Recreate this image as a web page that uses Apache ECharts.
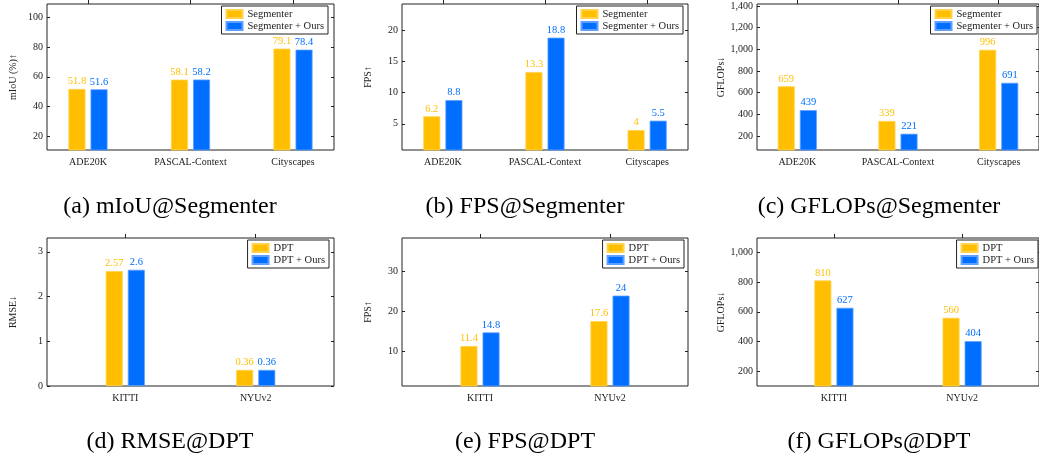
<!DOCTYPE html>
<html>
<head>
<meta charset="utf-8">
<script src="https://cdn.jsdelivr.net/npm/echarts@6/dist/echarts.min.js"></script>
<style>
  html, body { margin: 0; padding: 0; background: #fff; }
  #chart { width: 1039px; height: 455px; }
</style>
</head>
<body>
<div id="chart"></div>
<script>
// 数据
const segCats = ['ADE20K', 'PASCAL-Context', 'Cityscapes'];
const dptCats = ['KITTI', 'NYUv2'];

const miouSeg = [51.8, 58.1, 79.1];
const miouOurs = [51.6, 58.2, 78.4];
const fpsSeg = [6.2, 13.3, 4];
const fpsSegOurs = [8.8, 18.8, 5.5];
const gflopsSeg = [659, 339, 996];
const gflopsSegOurs = [439, 221, 691];

const rmseDpt = [2.57, 0.36];
const rmseOurs = [2.6, 0.36];
const fpsDpt = [11.4, 17.6];
const fpsDptOurs = [14.8, 24];
const gflopsDpt = [810, 560];
const gflopsDptOurs = [627, 404];

const miouTicks = [20, 40, 60, 80, 100];
const fpsSegTicks = [5, 10, 15, 20];
const gflopsSegTicks = [200, 400, 600, 800, 1000, 1200, 1400];
const rmseTicks = [0, 1, 2, 3];
const fpsDptTicks = [10, 20, 30];
const gflopsDptTicks = [200, 400, 600, 800, 1000];

const captions = [
  '(a) mIoU@Segmenter', '(b) FPS@Segmenter', '(c) GFLOPs@Segmenter',
  '(d) RMSE@DPT', '(e) FPS@DPT', '(f) GFLOPs@DPT'
];

const YELLOW = '#FFBF00';
const BLUE = '#006EFF';
const INK = '#222';
const SERIF = '"Liberation Serif", "DejaVu Serif", serif';

const comma = v => String(v).replace(/\B(?=(\d{3})+(?!\d))/g, ',');

// 子图配置 (legend: [right, top])
const panels = [
  { left: 47, top: 4, width: 287, height: 146, cats: segCats, base: miouSeg, ours: miouOurs,
    names: ['Segmenter', 'Segmenter + Ours'], yMin: 10.5, yMax: 109.3, ticks: miouTicks,
    yName: 'mIoU (%)↑', legend: [711, 6], capX: 170, capY: 207 },
  { left: 402, top: 4, width: 286, height: 146, cats: segCats, base: fpsSeg, ours: fpsSegOurs,
    names: ['Segmenter', 'Segmenter + Ours'], yMin: 0.8, yMax: 24.2, ticks: fpsSegTicks,
    yName: 'FPS↑', legend: [356, 6], capX: 525, capY: 207 },
  { left: 757, top: 4, width: 287, height: 146, cats: segCats, base: gflopsSeg, ours: gflopsSegOurs,
    names: ['Segmenter', 'Segmenter + Ours'], yMin: 71, yMax: 1418, ticks: gflopsSegTicks,
    yName: 'GFLOPs↓', legend: [2, 6], capX: 879, capY: 207, fmt: comma },
  { left: 47, top: 238, width: 287, height: 148, cats: dptCats, base: rmseDpt, ours: rmseOurs,
    names: ['DPT', 'DPT + Ours'], yMin: 0, yMax: 3.31, ticks: rmseTicks,
    yName: 'RMSE↓', legend: [710, 240], capX: 170, capY: 442 },
  { left: 402, top: 238, width: 286, height: 148, cats: dptCats, base: fpsDpt, ours: fpsDptOurs,
    names: ['DPT', 'DPT + Ours'], yMin: 1.4, yMax: 38.4, ticks: fpsDptTicks,
    yName: 'FPS↑', legend: [355, 240], capX: 525, capY: 442 },
  { left: 757, top: 238, width: 289, height: 148, cats: dptCats, base: gflopsDpt, ours: gflopsDptOurs,
    names: ['DPT', 'DPT + Ours'], yMin: 104, yMax: 1094, ticks: gflopsDptTicks,
    yName: 'GFLOPs↓', legend: [1, 240], capX: 879, capY: 442, fmt: comma }
];

const option = {
  animation: false,
  backgroundColor: '#fff',
  grid: [], xAxis: [], yAxis: [], legend: [], series: [], graphic: []
};

const tickFont = { fontFamily: SERIF, fontSize: 10, color: INK };
const noLine = { show: false, onZero: false };

panels.forEach((p, i) => {
  const pad = p.cats.length === 3 ? 0.4 : 0.6;
  const idx = p.cats.map((c, k) => k);
  const xMin = -pad, xMax = p.cats.length - 1 + pad;

  option.grid.push({
    left: p.left, top: p.top, width: p.width, height: p.height,
    show: true, borderColor: INK, borderWidth: 1, backgroundColor: 'transparent'
  });

  // 下方类别轴
  option.xAxis.push({
    gridIndex: i, type: 'value', min: xMin, max: xMax,
    axisLine: noLine, splitLine: { show: false }, axisTick: { show: false },
    axisLabel: { customValues: idx, formatter: v => p.cats[Math.round(v)], margin: 7, ...tickFont }
  });
  // 上方刻度
  option.xAxis.push({
    gridIndex: i, type: 'value', position: 'top', min: xMin, max: xMax,
    axisLine: noLine, splitLine: { show: false }, axisLabel: { show: false },
    axisTick: { show: true, inside: false, length: 4, customValues: idx, lineStyle: { color: INK } }
  });

  option.yAxis.push({
    gridIndex: i, type: 'value', position: 'left', min: p.yMin, max: p.yMax,
    name: p.yName, nameLocation: 'middle', nameGap: 29,
    nameTextStyle: { fontFamily: SERIF, fontSize: 10, color: INK },
    axisLine: noLine, splitLine: { show: false },
    axisTick: { show: true, inside: true, length: 3, customValues: p.ticks, lineStyle: { color: INK } },
    axisLabel: { customValues: p.ticks, formatter: p.fmt || (v => String(v)), margin: 4, ...tickFont }
  });
  option.yAxis.push({
    gridIndex: i, type: 'value', position: 'right', min: p.yMin, max: p.yMax,
    axisLine: noLine, splitLine: { show: false }, axisLabel: { show: false },
    axisTick: { show: true, inside: true, length: 3, customValues: p.ticks, lineStyle: { color: INK } }
  });

  [[p.base, YELLOW, '#FFD24D'], [p.ours, BLUE, '#5FA0FF']].forEach(([vals, color, edge], s) => {
    option.series.push({
      type: 'bar', name: p.names[s],
      xAxisIndex: 2 * i, yAxisIndex: 2 * i,
      data: vals.map((v, k) => [k, v]),
      barWidth: 17, barGap: '30%',
      itemStyle: { color: color, borderColor: edge, borderWidth: 0.8 },
      label: {
        show: true, position: 'top', distance: 2, color: color,
        fontFamily: SERIF, fontSize: 10.5, formatter: d => d.value[1]
      }
    });
  });

  option.legend.push({
    data: p.names.map(n => ({ name: n, icon: 'rect' })),
    orient: 'vertical', right: p.legend[0], top: p.legend[1],
    itemWidth: 16, itemHeight: 8, itemGap: 0,
    padding: [2, 4, 2, 4],
    borderColor: INK, borderWidth: 1, backgroundColor: '#fff',
    textStyle: { fontFamily: SERIF, fontSize: 10.5, color: INK, lineHeight: 12 },
    selectedMode: false
  });

  option.graphic.push({
    type: 'text', x: p.capX, y: p.capY,
    style: {
      text: captions[i], fill: '#000', font: '24px ' + SERIF,
      textAlign: 'center', textVerticalAlign: 'middle'
    }
  });
});

const chart = echarts.init(document.getElementById('chart'));
chart.setOption(option);
</script>
</body>
</html>
